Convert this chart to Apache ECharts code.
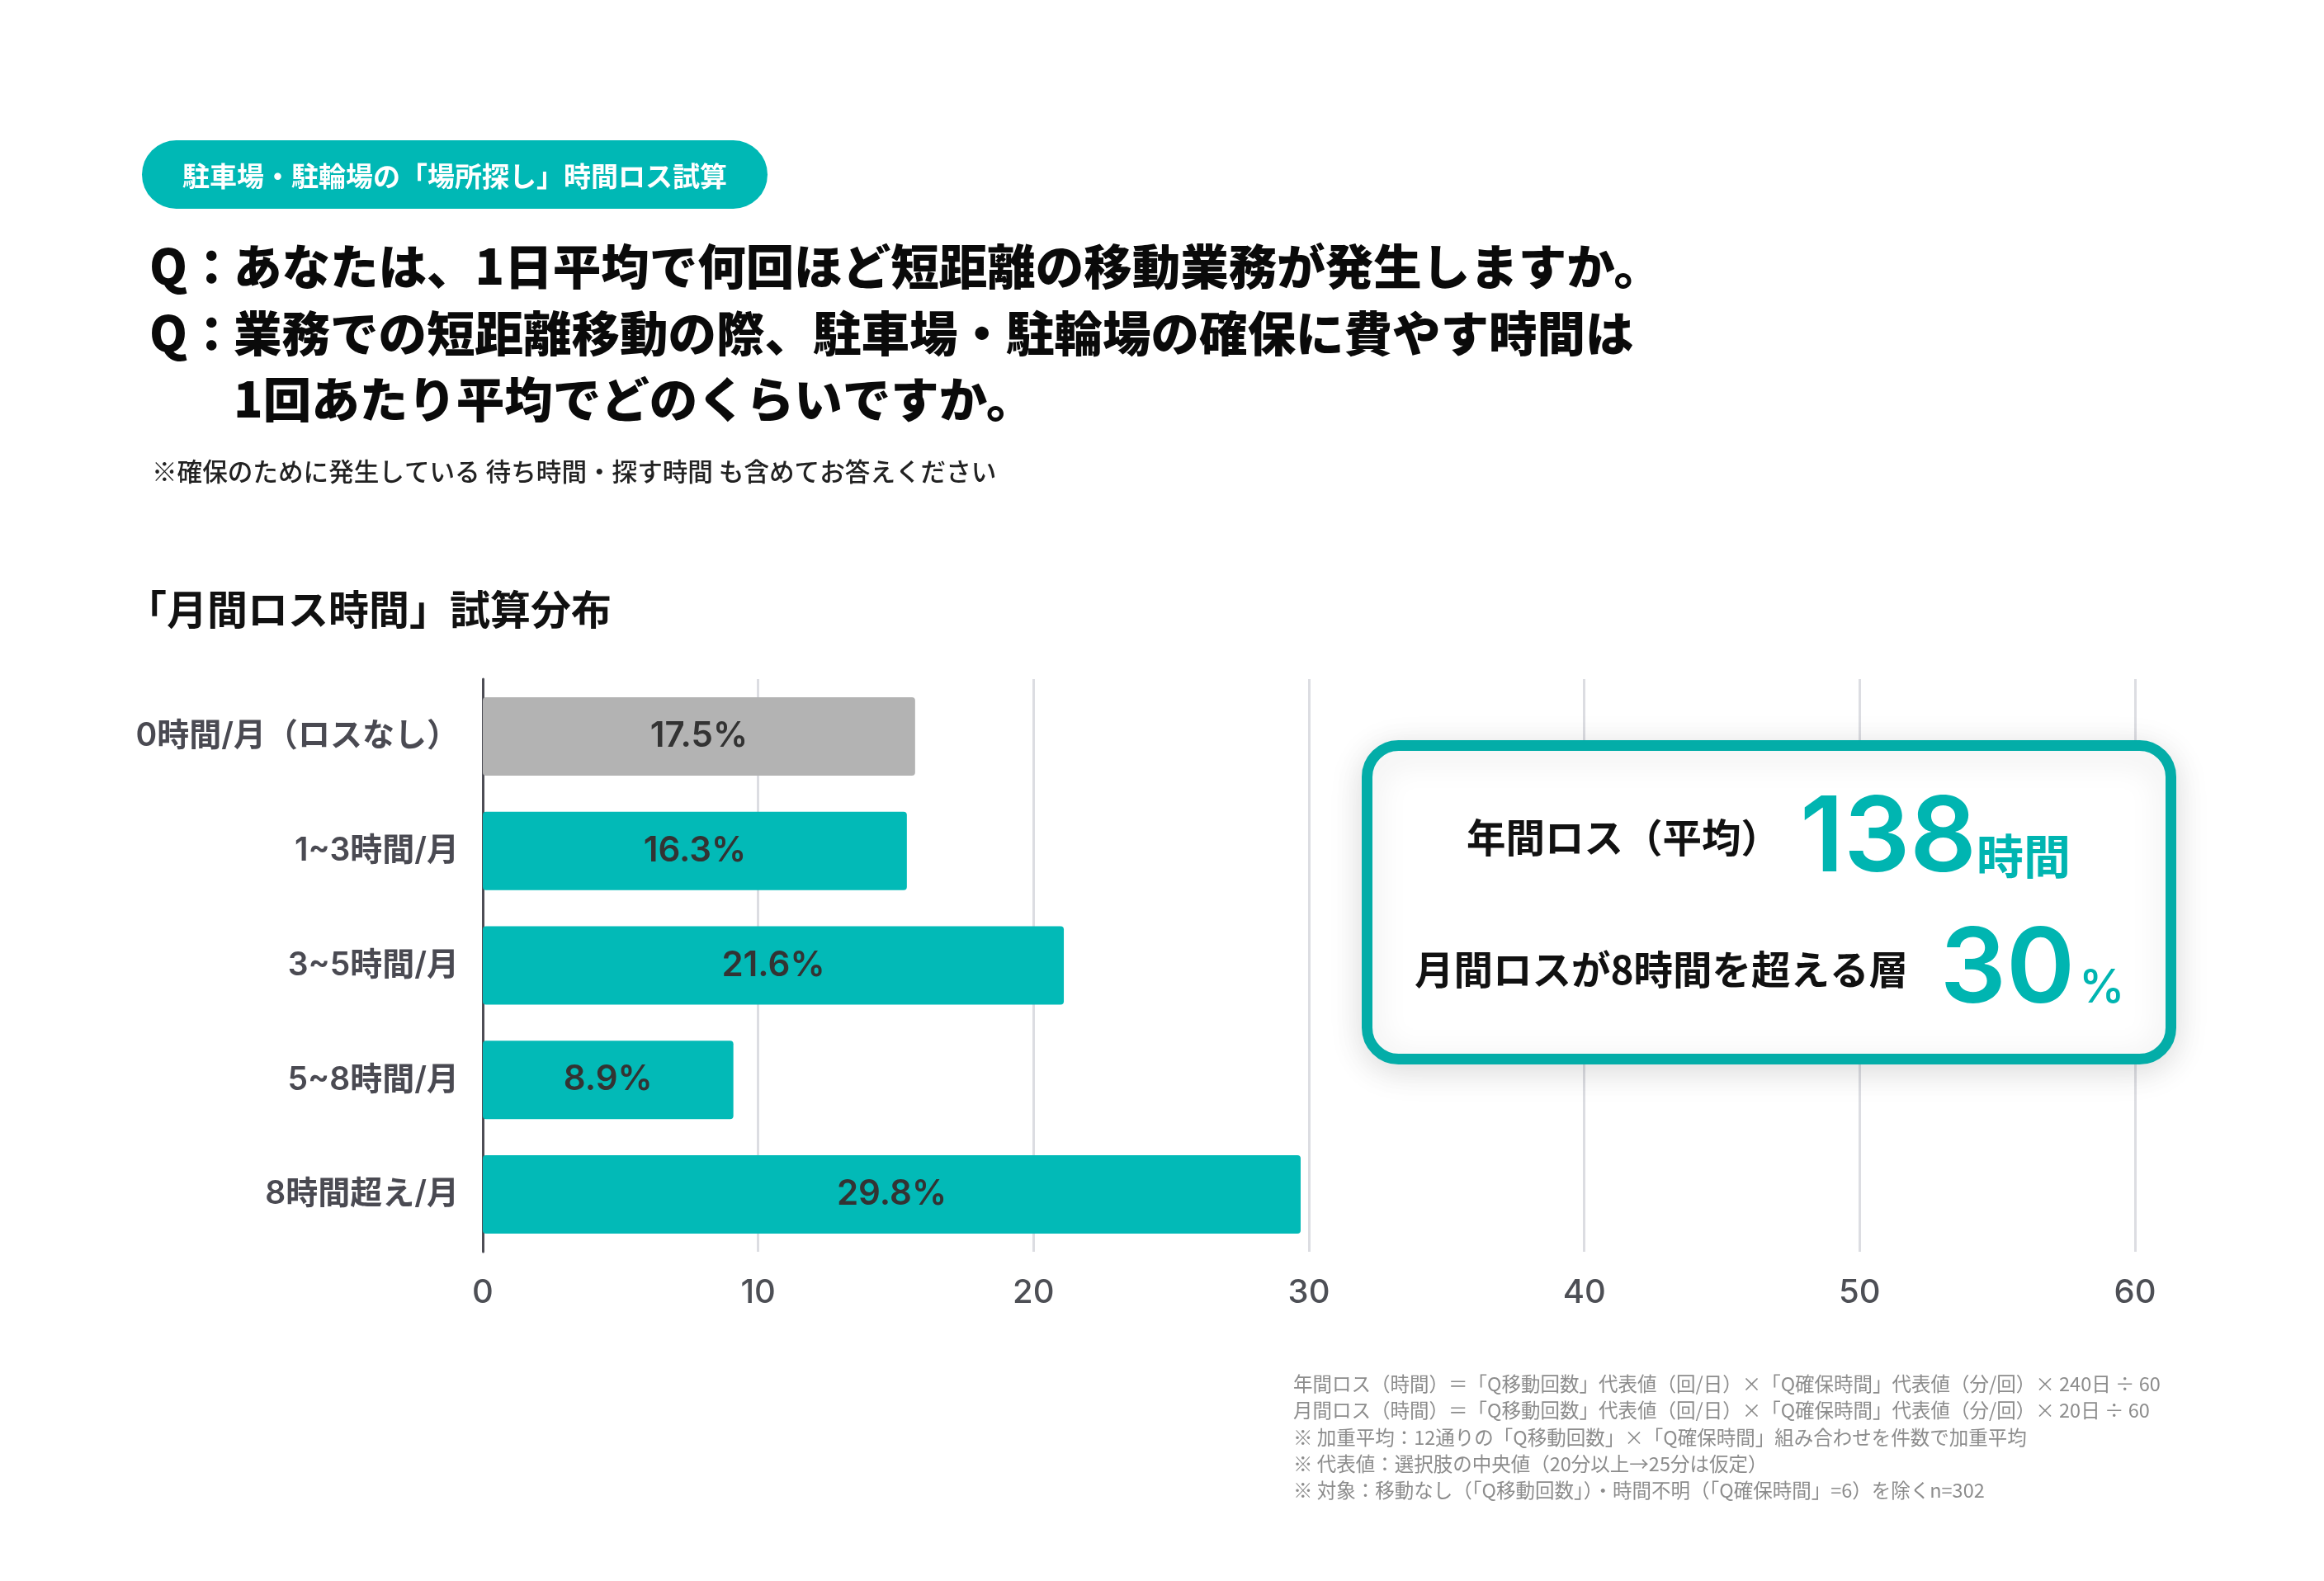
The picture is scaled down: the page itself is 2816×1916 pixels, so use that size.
<!DOCTYPE html>
<html>
<head>
<meta charset="utf-8">
<script src="https://cdn.jsdelivr.net/npm/echarts@6/dist/echarts.min.js"></script>
<style>
html,body{margin:0;padding:0;background:#fff;}
#chart{width:2816px;height:1916px;}
</style>
</head>
<body>
<div id="chart"></div>
<script>
// ---- data ----
const categories = ['0時間/月（ロスなし）', '1~3時間/月', '3~5時間/月', '5~8時間/月', '8時間超え/月'];
const barValues = [15.7, 15.4, 21.1, 9.1, 29.7];
const barLabels = ['17.5%', '16.3%', '21.6%', '8.9%', '29.8%'];
const barColors = ['#B3B3B3', '#02BAB7', '#02BAB7', '#02BAB7', '#02BAB7'];
const axisMin = 0, axisMax = 60, axisInterval = 10;

const badgeText = '駐車場・駐輪場の「場所探し」時間ロス試算';
const questionLines = [
  { q: 'Q：', text: 'あなたは、1日平均で何回ほど短距離の移動業務が発生しますか。' },
  { q: 'Q：', text: '業務での短距離移動の際、駐車場・駐輪場の確保に費やす時間は' },
  { q: '', text: '1回あたり平均でどのくらいですか。' }
];
const noteText = '※確保のために発生している 待ち時間・探す時間 も含めてお答えください';
const subTitle = '「月間ロス時間」試算分布';
const kpiLabels = ['年間ロス（平均）', '月間ロスが8時間を超える層'];
const kpiValues = ['138', '30'];
const kpiUnits = ['時間', '%'];
const footnotes = [
  '年間ロス（時間）＝「Q移動回数」代表値（回/日）×「Q確保時間」代表値（分/回）× 240日 ÷ 60',
  '月間ロス（時間）＝「Q移動回数」代表値（回/日）×「Q確保時間」代表値（分/回）× 20日 ÷ 60',
  '※ 加重平均：12通りの「Q移動回数」×「Q確保時間」組み合わせを件数で加重平均',
  '※ 代表値：選択肢の中央値（20分以上→25分は仮定）',
  '※ 対象：移動なし（「Q移動回数」）・時間不明（「Q確保時間」=6）を除くn=302'
];

const JP = "'Noto Sans CJK JP', sans-serif";
const NUM = "Inter, 'Noto Sans CJK JP', sans-serif";

const chart = echarts.init(document.getElementById('chart'));

const graphics = [];
// badge
graphics.push({
  type: 'rect', shape: { x: 172, y: 170, width: 758, height: 83, r: 41.5 },
  style: { fill: '#00B8B5' }, z: 10
});
graphics.push({
  type: 'text', x: 551, y: 213, z: 11,
  style: { text: badgeText, fill: '#fff', fontSize: 33, fontWeight: 'bold', fontFamily: JP, align: 'center', verticalAlign: 'middle' }
});
// questions
const qY = [323, 404, 484];
questionLines.forEach((l, i) => {
  if (l.q) graphics.push({
    type: 'text', x: 181, y: qY[i], z: 11,
    style: { text: l.q, fill: '#0a0a0a', fontSize: 58.5, fontWeight: 900, fontFamily: JP, align: 'left', verticalAlign: 'middle' }
  });
  graphics.push({
    type: 'text', x: 283, y: qY[i], z: 11,
    style: { text: l.text, fill: '#0a0a0a', fontSize: 58.5, fontWeight: 900, fontFamily: JP, align: 'left', verticalAlign: 'middle' }
  });
});
// note
graphics.push({
  type: 'text', x: 184, y: 571, z: 11,
  style: { text: noteText, fill: '#222', fontSize: 30.6, fontWeight: 500, fontFamily: JP, align: 'left', verticalAlign: 'middle' }
});
// subtitle
graphics.push({
  type: 'text', x: 153, y: 738, z: 11,
  style: { text: subTitle, fill: '#111', fontSize: 49, fontWeight: 'bold', fontFamily: JP, align: 'left', verticalAlign: 'middle' }
});
// KPI box
graphics.push({
  type: 'rect', shape: { x: 1656.5, y: 903.5, width: 974, height: 380, r: 38 },
  style: { fill: '#fff', stroke: '#03ADA8', lineWidth: 13, shadowBlur: 40, shadowColor: 'rgba(0,0,0,0.13)', shadowOffsetY: 8 },
  z: 100
});
graphics.push({
  type: 'text', x: 1777, y: 1015, z: 101,
  style: { text: kpiLabels[0], fill: '#111', fontSize: 47.5, fontWeight: 'bold', fontFamily: JP, align: 'left', verticalAlign: 'middle' }
});
graphics.push({
  type: 'text', x: 2395, y: 1018, z: 101,
  style: { text: kpiValues[0], fill: '#00B5B1', fontSize: 126, fontWeight: 600, fontFamily: NUM, align: 'right', verticalAlign: 'middle' }
});
graphics.push({
  type: 'text', x: 2395, y: 1037, z: 101,
  style: { text: kpiUnits[0], fill: '#00B5B1', fontSize: 57, fontWeight: 'bold', fontFamily: JP, align: 'left', verticalAlign: 'middle' }
});
graphics.push({
  type: 'text', x: 1714, y: 1175, z: 101,
  style: { text: kpiLabels[1], fill: '#111', fontSize: 47.5, fontWeight: 'bold', fontFamily: JP, align: 'left', verticalAlign: 'middle' }
});
graphics.push({
  type: 'text', x: 2514, y: 1177, z: 101,
  style: { text: kpiValues[1], fill: '#00B5B1', fontSize: 126, fontWeight: 600, fontFamily: NUM, align: 'right', verticalAlign: 'middle' }
});
graphics.push({
  type: 'text', x: 2519, y: 1198, z: 101,
  style: { text: kpiUnits[1], fill: '#00B5B1', fontSize: 56, fontWeight: 500, fontFamily: NUM, align: 'left', verticalAlign: 'middle' }
});
// footnotes
footnotes.forEach((t, i) => {
  graphics.push({
    type: 'text', x: 1567, y: 1677 + i * 32.3, z: 11,
    style: { text: t, fill: '#8c8c8c', fontSize: 23.5, fontFamily: JP, align: 'left', verticalAlign: 'middle' }
  });
});

chart.setOption({
  backgroundColor: '#fff',
  animation: false,
  grid: { left: 585, right: 229, top: 823, bottom: 399, containLabel: false },
  xAxis: {
    type: 'value', min: axisMin, max: axisMax, interval: axisInterval,
    axisLine: { show: false }, axisTick: { show: false },
    splitLine: { show: true, lineStyle: { color: '#DCDDE2', width: 3 } },
    axisLabel: { color: '#4d4f55', fontSize: 40, fontWeight: 500, fontFamily: NUM, margin: 30 }
  },
  yAxis: {
    type: 'category', inverse: true, data: categories,
    axisLine: { show: true, lineStyle: { color: '#4d4d55', width: 3 } },
    axisTick: { show: false },
    axisLabel: { color: '#4a4a52', fontSize: 39, fontWeight: 600, fontFamily: NUM, margin: 29 }
  },
  series: [{
    type: 'bar',
    barWidth: 95,
    data: barValues.map((v, i) => ({ value: v, itemStyle: { color: barColors[i] } })),
    itemStyle: { borderRadius: 4 },
    label: {
      show: true, position: 'inside',
      formatter: p => barLabels[p.dataIndex],
      color: '#333', fontSize: 42, fontWeight: 600, fontFamily: NUM
    },
    z: 3
  }],
  graphic: graphics
});
</script>
</body>
</html>
